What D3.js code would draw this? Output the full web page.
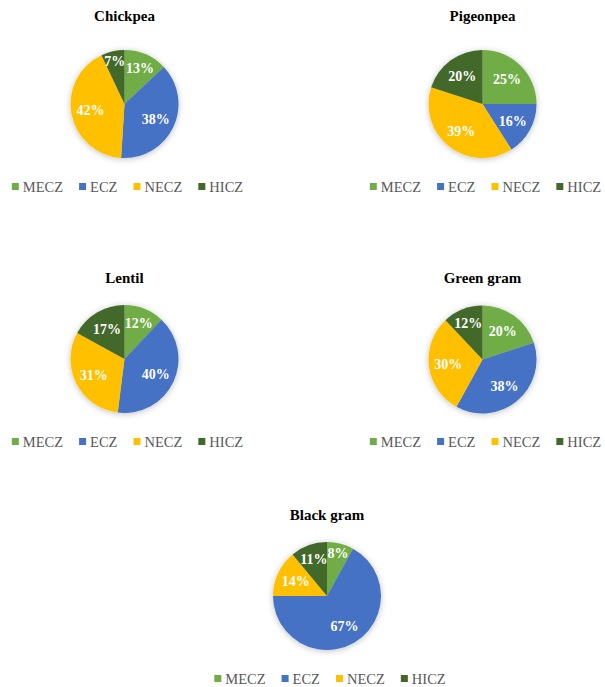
<!DOCTYPE html>
<html>
<head>
<meta charset="utf-8">
<script src="https://cdn.jsdelivr.net/npm/d3@7"></script>
<style>
  body { margin: 0; background: #fff; }
  svg { display: block; }
</style>
</head>
<body>
<div id="chart"></div>
<script>
const zones = ["MECZ", "ECZ", "NECZ", "HICZ"];
const crops = ["Chickpea", "Pigeonpea", "Lentil", "Green gram", "Black gram"];
const chickpea = [13, 38, 42, 7];
const pigeonpea = [25, 16, 39, 20];
const lentil = [12, 40, 31, 17];
const greenGram = [20, 38, 30, 12];
const blackGram = [8, 67, 14, 11];
const shares = [chickpea, pigeonpea, lentil, greenGram, blackGram];

const colors = ["#70AD47", "#4472C4", "#FFC000", "#43682B"];

const width = 605;
const height = 687;
const radius = 54;

// where each pie sits on the page
const layout = [
    { cx: 124.5, cy: 104, titleY: 21, legendY: 187 },
    { cx: 482.5, cy: 104, titleY: 21, legendY: 187 },
    { cx: 124.5, cy: 359, titleY: 283, legendY: 442 },
    { cx: 482.5, cy: 359.5, titleY: 283, legendY: 442 },
    { cx: 327, cy: 596, titleY: 520, legendY: 679 }
];

const svg = d3.select("#chart").append("svg")
    .attr("width", width)
    .attr("height", height);

const defs = svg.append("defs");
defs.append("filter")
    .attr("id", "shadow")
    .attr("x", "-30%").attr("y", "-30%")
    .attr("width", "160%").attr("height", "160%")
    .append("feDropShadow")
    .attr("dx", 0).attr("dy", 1)
    .attr("stdDeviation", 3)
    .attr("flood-color", "#000")
    .attr("flood-opacity", 0.25);

const color = d3.scaleOrdinal().domain(zones).range(colors);

const pie = d3.pie().sort(null).value((d) => d.value);
const arc = d3.arc().innerRadius(0).outerRadius(radius);

// small slices get their label pushed further out, like Excel's best fit
function labelRadius(v) {
    if (v < 10) return radius * 0.82;
    if (v <= 13) return radius * 0.72;
    return radius * 0.64;
}

const font = "'Liberation Serif', 'Times New Roman', serif";

crops.forEach((crop, i) => {
    const pos = layout[i];
    const data = zones.map((z, j) => ({ zone: z, value: shares[i][j] }));

    svg.append("text")
        .attr("x", pos.cx)
        .attr("y", pos.titleY)
        .attr("text-anchor", "middle")
        .attr("font-family", font)
        .attr("font-weight", "bold")
        .attr("font-size", 15)
        .attr("fill", "#000")
        .text(crop);

    const g = svg.append("g")
        .attr("transform", `translate(${pos.cx},${pos.cy})`);

    g.append("g")
        .attr("filter", "url(#shadow)")
        .selectAll("path")
        .data(pie(data))
        .join("path")
        .attr("d", arc)
        .attr("fill", (d) => color(d.data.zone));

    g.selectAll("text")
        .data(pie(data))
        .join("text")
        .attr("transform", (d) => {
            const r = labelRadius(d.data.value);
            return `translate(${d3.arc().innerRadius(r).outerRadius(r).centroid(d)})`;
        })
        .attr("text-anchor", "middle")
        .attr("dy", "0.35em")
        .attr("font-family", font)
        .attr("font-weight", "bold")
        .attr("font-size", 14)
        .attr("fill", "#fff")
        .text((d) => d.data.value + "%");

    // legend, laid out from measured text widths
    const legend = svg.append("g");
    let x = 0;
    zones.forEach((z) => {
        const item = legend.append("g").attr("transform", `translate(${x},0)`);
        item.append("rect")
            .attr("x", 0).attr("y", -4)
            .attr("width", 7).attr("height", 7)
            .attr("fill", color(z));
        const t = item.append("text")
            .attr("x", 11)
            .attr("y", 0)
            .attr("dy", "0.35em")
            .attr("font-family", font)
            .attr("font-size", 14.5)
            .attr("fill", "#595959")
            .text(z);
        x += 11 + t.node().getComputedTextLength() + 16;
    });
    const legendWidth = x - 16;
    legend.attr("transform", `translate(${pos.cx + 3 - legendWidth / 2},${pos.legendY})`);
});
</script>
</body>
</html>
